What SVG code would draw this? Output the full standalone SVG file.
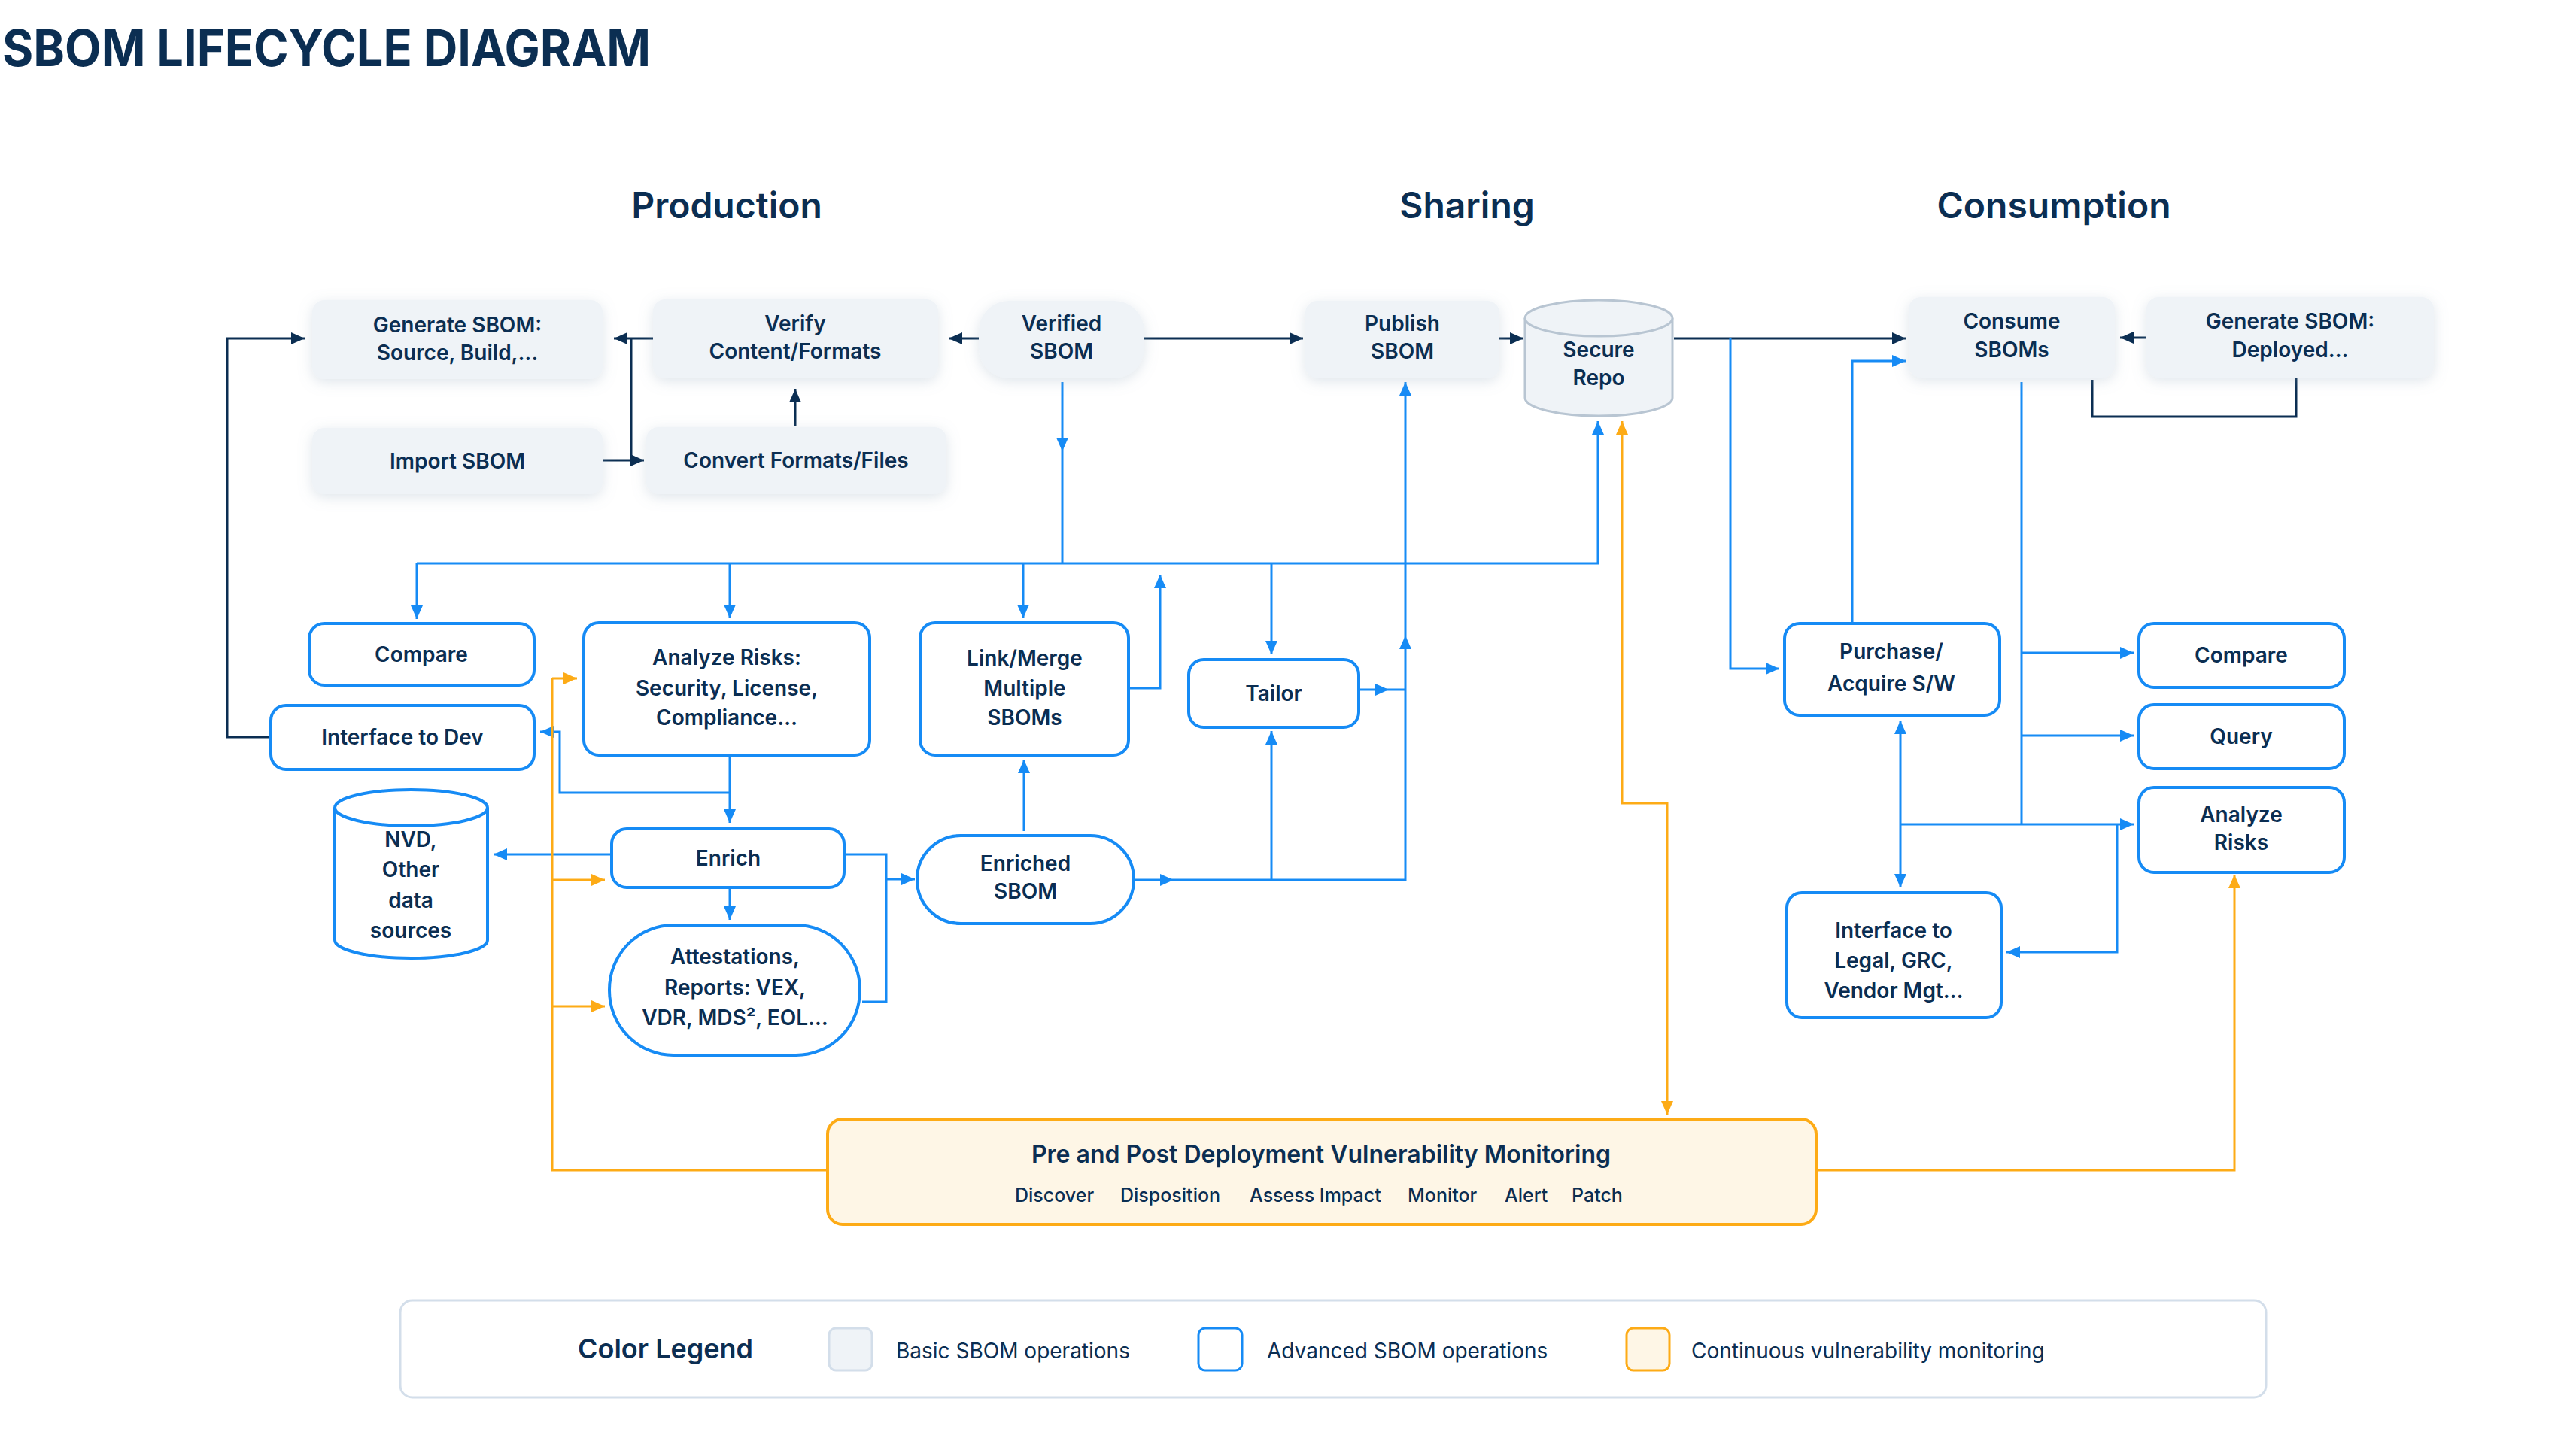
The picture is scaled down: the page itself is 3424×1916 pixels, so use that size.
<svg xmlns="http://www.w3.org/2000/svg" width="3424" height="1916" viewBox="0 0 3424 1916">
<defs>
<style>
.t{font-family:Inter,"Liberation Sans",sans-serif;font-weight:600;font-size:28px;fill:#0b2e52;text-anchor:middle}
.h{font-family:Inter,"Liberation Sans",sans-serif;font-weight:600;font-size:48px;fill:#0b2e52;text-anchor:middle}
.lg{font-family:Inter,"Liberation Sans",sans-serif;font-weight:400;font-size:28px;fill:#0b2e52}
.basic{fill:#eff3f7;filter:url(#sh)}
.adv{fill:#ffffff;stroke:#168bf5;stroke-width:4}
.cn{fill:none;stroke:#0b2e52;stroke-width:3}
.cb{fill:none;stroke:#168bf5;stroke-width:3}
.co{fill:none;stroke:#fdab16;stroke-width:3}
</style>
<filter id="sh" x="-20%" y="-30%" width="140%" height="160%">
<feDropShadow dx="0" dy="4" stdDeviation="9" flood-color="#8aa0b6" flood-opacity="0.28"/>
</filter>
<marker id="an" markerUnits="userSpaceOnUse" markerWidth="20" markerHeight="16" refX="18" refY="8" orient="auto"><path d="M0,0 L18,8 L0,16 z" fill="#0b2e52"/></marker>
<marker id="ab" markerUnits="userSpaceOnUse" markerWidth="20" markerHeight="16" refX="18" refY="8" orient="auto"><path d="M0,0 L18,8 L0,16 z" fill="#168bf5"/></marker>
<marker id="ao" markerUnits="userSpaceOnUse" markerWidth="20" markerHeight="16" refX="18" refY="8" orient="auto-start-reverse"><path d="M0,0 L18,8 L0,16 z" fill="#fdab16"/></marker>
</defs>
<rect width="3424" height="1916" fill="#ffffff"/>
<text x="3" y="88" font-family="Inter,'Liberation Sans',sans-serif" font-weight="700" font-size="68" fill="#0b2e52" textLength="862" lengthAdjust="spacingAndGlyphs">SBOM LIFECYCLE DIAGRAM</text>
<g id="headers">
<text class="h" x="966" y="290">Production</text>
<text class="h" x="1950" y="290">Sharing</text>
<text class="h" x="2730" y="290">Consumption</text>
</g>
<g id="connectors">
<!-- navy -->
<path class="cn" d="M868,450 H816" marker-end="url(#an)"/>
<path class="cn" d="M839,450 V612"/>
<path class="cn" d="M801,612 H856" marker-end="url(#an)"/>
<path class="cn" d="M1057,567 V517" marker-end="url(#an)"/>
<path class="cn" d="M1301,450 H1261" marker-end="url(#an)"/>
<path class="cn" d="M1521,450 H1732" marker-end="url(#an)"/>
<path class="cn" d="M1993,450 H2025" marker-end="url(#an)"/>
<path class="cn" d="M2225,450 H2533" marker-end="url(#an)"/>
<path class="cn" d="M2853,449 H2818" marker-end="url(#an)"/>
<path class="cn" d="M2781,505 V554 H3052 V503"/>
<path class="cn" d="M359,980 H302 V450 H405" marker-end="url(#an)"/>
<!-- blue bus -->
<path class="cb" d="M554,749 H2124 V560" marker-end="url(#ab)"/>
<path class="cb" d="M554,749 V823" marker-end="url(#ab)"/>
<path class="cb" d="M970,749 V822" marker-end="url(#ab)"/>
<path class="cb" d="M1360,749 V822" marker-end="url(#ab)"/>
<path class="cb" d="M1690,749 V870" marker-end="url(#ab)"/>
<path class="cb" d="M1412,508 V600" marker-end="url(#ab)"/>
<path class="cb" d="M1412,600 V749"/>
<path class="cb" d="M970,1004 V1094" marker-end="url(#ab)"/>
<path class="cb" d="M970,1054 H744 V973 H718" marker-end="url(#ab)"/>
<path class="cb" d="M813,1136 H656" marker-end="url(#ab)"/>
<path class="cb" d="M970,1180 V1223" marker-end="url(#ab)"/>
<path class="cb" d="M1122,1136 H1178 V1332 H1146"/>
<path class="cb" d="M1178,1169 H1216" marker-end="url(#ab)"/>
<path class="cb" d="M1361,1105 V1010" marker-end="url(#ab)"/>
<path class="cb" d="M1507,1170 H1560" marker-end="url(#ab)"/>
<path class="cb" d="M1560,1170 H1868 V845" marker-end="url(#ab)"/>
<path class="cb" d="M1868,845 V508" marker-end="url(#ab)"/>
<path class="cb" d="M1690,1170 V972" marker-end="url(#ab)"/>
<path class="cb" d="M1806,917 H1846" marker-end="url(#ab)"/>
<path class="cb" d="M1846,917 H1868"/>
<path class="cb" d="M1500,915 H1542 V764" marker-end="url(#ab)"/>
<!-- blue right -->
<path class="cb" d="M2300,450 V889 H2365" marker-end="url(#ab)"/>
<path class="cb" d="M2462,829 V480 H2533" marker-end="url(#ab)"/>
<path class="cb" d="M2526,1096 V958" marker-end="url(#ab)"/>
<path class="cb" d="M2526,1096 V1180" marker-end="url(#ab)"/>
<path class="cb" d="M2526,1096 H2836" marker-end="url(#ab)"/>
<path class="cb" d="M2687,508 V1096"/>
<path class="cb" d="M2687,868 H2836" marker-end="url(#ab)"/>
<path class="cb" d="M2687,978 H2836" marker-end="url(#ab)"/>
<path class="cb" d="M2814,1096 V1266 H2667" marker-end="url(#ab)"/>
<!-- orange -->
<path class="co" d="M734,902 V1556 H1100"/>
<path class="co" d="M734,902 H767" marker-end="url(#ao)"/>
<path class="co" d="M734,1170 H804" marker-end="url(#ao)"/>
<path class="co" d="M734,1338 H804" marker-end="url(#ao)"/>
<path class="co" d="M2414,1556 H2970 V1163" marker-end="url(#ao)"/>
<path class="co" d="M2156,560 V1068 H2216 V1482" marker-start="url(#ao)" marker-end="url(#ao)"/>
</g>
<g id="n-gen-src"><rect class="basic" x="415" y="399" width="386" height="105" rx="16"/><text class="t" x="608" y="442">Generate SBOM:</text><text class="t" x="608" y="479">Source, Build,…</text></g>
<g id="n-import"><rect class="basic" x="415" y="569" width="386" height="88" rx="16"/><text class="t" x="608" y="623">Import SBOM</text></g>
<g id="n-verify"><rect class="basic" x="868" y="398" width="379" height="105" rx="16"/><text class="t" x="1057" y="440">Verify</text><text class="t" x="1057" y="477">Content/Formats</text></g>
<g id="n-convert"><rect class="basic" x="859" y="568" width="399" height="89" rx="16"/><text class="t" x="1058" y="622">Convert Formats/Files</text></g>
<g id="n-verified"><rect class="basic" x="1301" y="400" width="220" height="103" rx="40"/><text class="t" x="1411" y="440">Verified</text><text class="t" x="1411" y="477">SBOM</text></g>
<g id="n-publish"><rect class="basic" x="1735" y="400" width="258" height="103" rx="16"/><text class="t" x="1864" y="440">Publish</text><text class="t" x="1864" y="477">SBOM</text></g>
<g id="n-repo">
<path d="M2027,423 V529 A98,24 0 0 0 2223,529 V423" fill="#eff3f7" stroke="#b8c5d2" stroke-width="3"/>
<ellipse cx="2125" cy="423" rx="98" ry="24" fill="#eff3f7" stroke="#b8c5d2" stroke-width="3"/>
<text class="t" x="2125" y="475">Secure</text><text class="t" x="2125" y="512">Repo</text></g>
<g id="n-consume"><rect class="basic" x="2537" y="395" width="274" height="107" rx="16"/><text class="t" x="2674" y="437">Consume</text><text class="t" x="2674" y="475">SBOMs</text></g>
<g id="n-gen-dep"><rect class="basic" x="2853" y="395" width="382" height="107" rx="16"/><text class="t" x="3044" y="437">Generate SBOM:</text><text class="t" x="3044" y="475">Deployed…</text></g>
<g id="n-compare-l"><rect class="adv" x="411" y="829" width="299" height="82" rx="20"/><text class="t" x="560" y="880">Compare</text></g>
<g id="n-ifdev"><rect class="adv" x="360" y="938" width="350" height="85" rx="20"/><text class="t" x="535" y="990">Interface to Dev</text></g>
<g id="n-analyze-l"><rect class="adv" x="776" y="828" width="380" height="176" rx="20"/><text class="t" x="966" y="884">Analyze Risks:</text><text class="t" x="966" y="925">Security, License,</text><text class="t" x="966" y="964">Compliance…</text></g>
<g id="n-link"><rect class="adv" x="1223" y="828" width="277" height="176" rx="20"/><text class="t" x="1362" y="885">Link/Merge</text><text class="t" x="1362" y="925">Multiple</text><text class="t" x="1362" y="964">SBOMs</text></g>
<g id="n-tailor"><rect class="adv" x="1580" y="877" width="226" height="90" rx="20"/><text class="t" x="1693" y="932">Tailor</text></g>
<g id="n-nvd">
<path d="M445,1074 V1250 A101.5,24 0 0 0 648,1250 V1074" fill="#ffffff" stroke="#168bf5" stroke-width="4"/>
<ellipse cx="546.5" cy="1074" rx="101.5" ry="24" fill="#ffffff" stroke="#168bf5" stroke-width="4"/>
<text class="t" x="546" y="1126">NVD,</text><text class="t" x="546" y="1166">Other</text><text class="t" x="546" y="1207">data</text><text class="t" x="546" y="1247">sources</text></g>
<g id="n-enrich"><rect class="adv" x="813" y="1102" width="309" height="78" rx="20"/><text class="t" x="968" y="1151">Enrich</text></g>
<g id="n-attest"><rect class="adv" x="810" y="1230" width="333" height="173" rx="85" ry="86"/><text class="t" x="977" y="1282">Attestations,</text><text class="t" x="977" y="1323">Reports: VEX,</text><text class="t" x="977" y="1363">VDR, MDS², EOL…</text></g>
<g id="n-enriched"><rect class="adv" x="1219" y="1111" width="288" height="117" rx="58"/><text class="t" x="1363" y="1158">Enriched</text><text class="t" x="1363" y="1195">SBOM</text></g>
<g id="n-purchase"><rect class="adv" x="2372" y="829" width="286" height="122" rx="20"/><text class="t" x="2514" y="876">Purchase/</text><text class="t" x="2514" y="919">Acquire S/W</text></g>
<g id="n-legal"><rect class="adv" x="2375" y="1187" width="285" height="166" rx="20"/><text class="t" x="2517" y="1247">Interface to</text><text class="t" x="2517" y="1287">Legal, GRC,</text><text class="t" x="2517" y="1327">Vendor Mgt…</text></g>
<g id="n-compare-r"><rect class="adv" x="2843" y="829" width="273" height="85" rx="20"/><text class="t" x="2979" y="881">Compare</text></g>
<g id="n-query"><rect class="adv" x="2843" y="937" width="273" height="85" rx="20"/><text class="t" x="2979" y="989">Query</text></g>
<g id="n-analyze-r"><rect class="adv" x="2843" y="1047" width="273" height="113" rx="20"/><text class="t" x="2979" y="1093">Analyze</text><text class="t" x="2979" y="1130">Risks</text></g>
<g id="n-monitor"><rect x="1100" y="1488" width="1314" height="140" rx="20" fill="#fef6e6" stroke="#fdab16" stroke-width="4"/>
<text class="t" x="1756" y="1546" style="font-size:32px">Pre and Post Deployment Vulnerability Monitoring</text>
<text class="lg" y="1598" style="font-size:25px;font-weight:500"><tspan x="1349">Discover</tspan><tspan x="1489">Disposition</tspan><tspan x="1661">Assess Impact</tspan><tspan x="1871">Monitor</tspan><tspan x="2000">Alert</tspan><tspan x="2089">Patch</tspan></text></g>
<g id="legend">
<rect x="532" y="1729" width="2480" height="129" rx="16" fill="#ffffff" stroke="#d3deea" stroke-width="3"/>
<text x="768" y="1806" font-family="Inter,'Liberation Sans',sans-serif" font-weight="600" font-size="36" fill="#0b2e52">Color Legend</text>
<rect x="1102" y="1766" width="57" height="56" rx="9" fill="#eff3f7" stroke="#d3deea" stroke-width="3"/>
<text class="lg" x="1191" y="1806">Basic SBOM operations</text>
<rect x="1593" y="1766" width="58" height="56" rx="9" fill="#ffffff" stroke="#168bf5" stroke-width="3"/>
<text class="lg" x="1684" y="1806">Advanced SBOM operations</text>
<rect x="2162" y="1766" width="57" height="56" rx="9" fill="#fef6e6" stroke="#fdab16" stroke-width="3"/>
<text class="lg" x="2248" y="1806">Continuous vulnerability monitoring</text>
</g>
</svg>
